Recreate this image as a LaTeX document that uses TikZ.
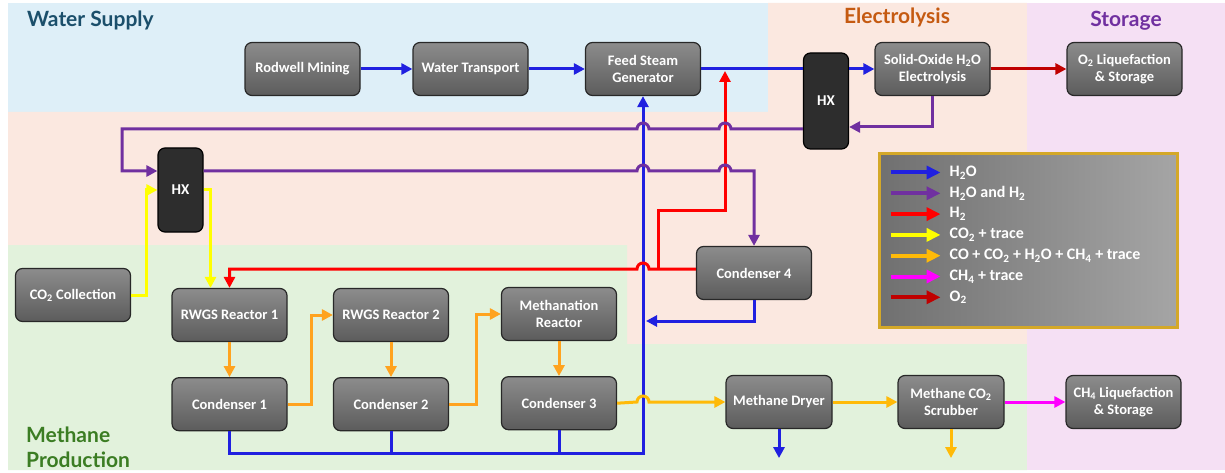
\documentclass[tikz,border=0pt]{standalone}
\usepackage{fontspec}
\setmainfont{Carlito}
\newfontfamily\headfont{Lato}
\usepackage{tikz}
\usetikzlibrary{arrows.meta,positioning,calc}

\definecolor{supplybg}{RGB}{222,239,248}
\definecolor{electrobg}{RGB}{251,232,224}
\definecolor{methanebg}{RGB}{226,242,220}
\definecolor{storagebg}{RGB}{245,224,244}
\definecolor{supplytxt}{RGB}{27,79,107}
\definecolor{electrotxt}{RGB}{197,90,17}
\definecolor{storagetxt}{RGB}{112,48,160}
\definecolor{methanetxt}{RGB}{59,125,35}
\definecolor{boxtop}{RGB}{140,140,140}
\definecolor{boxbot}{RGB}{92,92,92}
\definecolor{boxline}{RGB}{40,40,40}
\definecolor{hxfill}{RGB}{45,45,45}
\definecolor{keyleft}{RGB}{112,112,112}
\definecolor{keyright}{RGB}{165,165,165}
\definecolor{legendgold}{RGB}{212,168,40}
\definecolor{flowwater}{RGB}{32,32,224}
\definecolor{flowmix}{RGB}{112,48,160}
\definecolor{flowhyd}{RGB}{255,0,0}
\definecolor{flowcarb}{RGB}{255,255,0}
\definecolor{flowgas}{RGB}{255,163,31}
\definecolor{flowgold}{RGB}{255,186,8}
\definecolor{flowmeth}{RGB}{255,0,255}
\definecolor{flowoxy}{RGB}{192,0,0}

\begin{document}
\begin{tikzpicture}[
    x=1pt, y=-1pt,
    node distance=35pt,
    >={Triangle[length=11pt,width=11pt]},
    unit/.style={rectangle, draw=boxline, line width=1.2pt, rounded corners=7pt,
        minimum width=115pt, minimum height=53pt, inner sep=1pt, align=center,
        top color=boxtop, bottom color=boxbot, text=white,
        font=\fontsize{14.5}{17.5}\selectfont\bfseries},
    hx/.style={rectangle, draw=black, line width=1.2pt, rounded corners=7pt,
        minimum width=45pt, fill=hxfill, text=white,
        font=\fontsize{15}{17}\selectfont\bfseries},
    region/.style={inner sep=0pt, font=\headfont\bfseries\fontsize{21}{25}\selectfont},
    legendbox/.style={rectangle, minimum width=298pt, minimum height=173pt,
        draw=legendgold, line width=3pt, left color=keyleft, right color=keyright},
    keytext/.style={anchor=west, inner sep=0pt, text=white,
        font=\fontsize{16}{18}\selectfont\bfseries},
    pipe/.style={line width=3pt},
    arrow/.style={pipe, ->},
    keyarrow/.style={line width=4pt, -{Triangle[length=14pt,width=13pt]}}
]
\useasboundingbox (0,0) rectangle (1225,473);

% zones
\fill[supplybg] (8,3) rectangle (768,112);
\fill[electrobg] (768,3) -- (1027,3) -- (1027,344) -- (627,344) -- (627,245)
    -- (8,245) -- (8,112) -- (768,112) -- cycle;
\fill[methanebg] (8,245) -- (627,245) -- (627,344) -- (1027,344) -- (1027,470)
    -- (8,470) -- cycle;
\fill[storagebg] (1027,3) rectangle (1225,470);

\node[region, text=supplytxt, anchor=west] (supplytitle) at (27,20) {Water Supply};
\node[region, text=electrotxt] (electrotitle) at (897,17) {Electrolysis};
\node[region, text=storagetxt] (storagetitle) at (1126,21) {Storage};
\node[region, text=methanetxt, anchor=west, align=left] (methanetitle) at (26,447) {Methane\\Production};

% units
\node[unit] (rodwell) at (302.5,69) {Rodwell Mining};
\node[unit] (transport) at (470.5,69) {Water Transport};
\node[unit] (steamgen) at (643,69) {Feed Steam\\Generator};
\node[hx, minimum height=96pt] (hxsoe) at (826,101) {HX};
\node[unit] (soec) at (932.5,69) {Solid-Oxide H\textsubscript{2}O\\Electrolysis};
\node[unit] (oxstore) at (1124.5,69) {O\textsubscript{2} Liquefaction\\\& Storage};
\node[hx, minimum height=84pt] (hxrwgs) at (180.5,190) {HX};
\node[unit] (co2src) at (73,295) {CO\textsubscript{2} Collection};
\node[unit] (rwgsA) at (229.5,315) {RWGS Reactor 1};
\node[unit] (rwgsB) at (391,315) {RWGS Reactor 2};
\node[unit] (methr) at (559,314) {Methanation\\Reactor};
\node[unit] (condD) at (754,273) {Condenser 4};
\node[unit, below=of rwgsA] (condA) {Condenser 1};
\node[unit, below=of rwgsB] (condB) {Condenser 2};
\node[unit, below=of methr] (condC) {Condenser 3};
\node[unit, minimum width=106pt] (dryer) at (779,402) {Methane Dryer};
\node[unit, minimum width=106pt] (scrubber) at (951,402) {Methane CO\textsubscript{2}\\Scrubber};
\node[unit] (ch4store) at (1123.5,402) {CH\textsubscript{4} Liquefaction\\\& Storage};

% water
\draw[arrow, flowwater] (rodwell) -- (transport);
\draw[arrow, flowwater] (transport) -- (steamgen);
\draw[pipe, flowwater] (steamgen.east) -- (steamgen.east -| hxsoe.west);
\draw[arrow, flowwater] (hxsoe.east |- soec.west) -- (soec.west);
\draw[arrow, flowwater] (condA.south) |- (steamgen.south |- 0,453) -- (steamgen.south);
\draw[pipe, flowwater] (condB.south) -- (condB.south |- 0,453);
\draw[pipe, flowwater] (condC.south) -- (condC.south |- 0,453);
\draw[arrow, flowwater] (condD.south) |- ($(steamgen.south |- 0,321)+(3,0)$);
\draw[arrow, flowwater] (dryer.south) -- ++(0,29);

% hydrogen
\coordinate (h2split) at (658,269);
\coordinate (h2join) at (725,71);
\draw[arrow, flowhyd] ($(condD.west)+(0,-4)$) -- (649,269)
    arc[start angle=0, end angle=180, radius=6pt] -| (rwgsA.north);
\draw[arrow, flowhyd] (h2split) |- (725,210) -- (h2join);

% steam + hydrogen
\draw[arrow, flowmix] (soec.south) |- ($(hxsoe.east)+(0,26)$);
\draw[arrow, flowmix] ($(hxsoe.west)+(0,28)$) -- (731,129)
    arc[start angle=0, end angle=180, radius=6pt] -- (649,129)
    arc[start angle=0, end angle=180, radius=6pt] -- (122,129)
    |- ($(hxrwgs.west)+(0,-19)$);
\draw[arrow, flowmix] ($(hxrwgs.east)+(0,-19)$) -- (637,171)
    arc[start angle=180, end angle=0, radius=6pt] -- (719,171)
    arc[start angle=180, end angle=0, radius=6pt] -| (condD.north);

% carbon
\draw[arrow, flowcarb] (co2src.east) -- ++(15,0) |- (hxrwgs.west);
\draw[arrow, flowcarb] (hxrwgs.east) -| ($(rwgsA.north)+(-19,0)$);
\draw[arrow, flowgas] (rwgsA) -- (condA);
\draw[arrow, flowgas] (condA.east) -- ++(24,0) |- (rwgsB.west);
\draw[arrow, flowgas] (rwgsB) -- (condB);
\draw[arrow, flowgas] (condB.east) -- ++(27,0) |- (methr.west);
\draw[arrow, flowgas] (methr) -- (condC);
\draw[arrow, flowgold] (condC.east) -- (637,402)
    arc[start angle=180, end angle=0, radius=6pt] -- (dryer.west);
\draw[arrow, flowgold] (dryer) -- (scrubber);
\draw[arrow, flowgold] (scrubber.south) -- ++(0,29);
\draw[arrow, flowmeth] (scrubber) -- (ch4store);
\draw[arrow, flowoxy] (soec) -- (oxstore);

% legend
\node[legendbox] (legend) at (1028,240.5) {};
\foreach \col/\txt [count=\i] in {flowwater/H\textsubscript{2}O,
    flowmix/H\textsubscript{2}O and H\textsubscript{2},
    flowhyd/H\textsubscript{2},
    flowcarb/CO\textsubscript{2} + trace,
    flowgold/CO + CO\textsubscript{2} + H\textsubscript{2}O + CH\textsubscript{4} + trace,
    flowmeth/CH\textsubscript{4} + trace,
    flowoxy/O\textsubscript{2}}{
  \coordinate (keystart) at ($(legend.north west)+(13,{20+20.8*(\i-1)})$);
  \draw[keyarrow, \col] (keystart) -- ++(50,0) coordinate (keyend);
  \node[keytext] (key\i) at ($(keyend)+(9,0)$) {\txt};
}
\end{tikzpicture}
\end{document}
